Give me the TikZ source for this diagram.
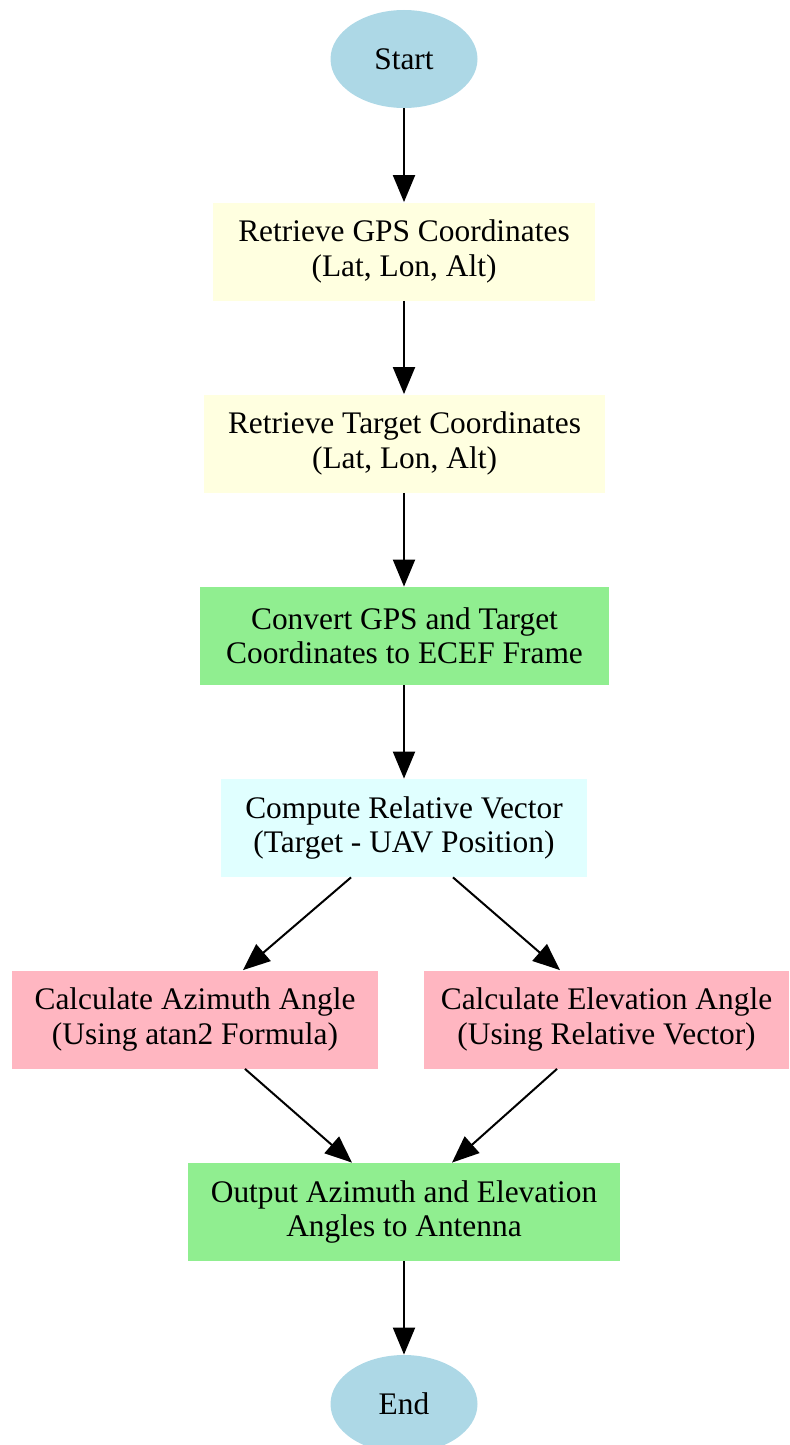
\documentclass[tikz,border=0pt]{standalone}
\usepackage{fontspec}
\setmainfont{Liberation Serif}
\usetikzlibrary{arrows.meta,shapes.geometric}
\definecolor{lblue}{HTML}{ADD8E6}
\definecolor{lyellow}{HTML}{FFFFE0}
\definecolor{lgreen}{HTML}{90EE90}
\definecolor{lcyan}{HTML}{E0FFFF}
\definecolor{lpink}{HTML}{FFB6C1}
\begin{document}
\begin{tikzpicture}[x=0.5pt,y=-0.5pt,
  every node/.style={font=\fontsize{15.7}{17.2}\selectfont, align=center, inner sep=0pt, text=black},
  terminal/.style={ellipse, fill=lblue, minimum width=73.5pt, minimum height=49pt},
  box/.style={rectangle, minimum height=49pt},
  conn/.style={line width=1pt, -{Triangle[length=13.5pt,width=11pt]}}]
\useasboundingbox (0,0) rectangle (789,1445);
\node[terminal] (start) at (404,59) {Start};
\node[box, fill=lyellow, minimum width=191pt] (gps) at (404,251.5) {Retrieve GPS Coordinates\\(Lat, Lon, Alt)};
\node[box, fill=lyellow, minimum width=200.5pt] (target) at (404.5,443.5) {Retrieve Target Coordinates\\(Lat, Lon, Alt)};
\node[box, fill=lgreen, minimum width=204.5pt] (convert) at (404.5,636) {Convert GPS and Target\\Coordinates to ECEF Frame};
\node[box, fill=lcyan, minimum width=183pt] (compute) at (404,828) {Compute Relative Vector\\(Target - UAV Position)};
\node[box, fill=lpink, minimum width=183pt] (azimuth) at (195,1019.5) {Calculate Azimuth Angle\\(Using atan2 Formula)};
\node[box, fill=lpink, minimum width=182.5pt] (elevation) at (606.5,1019.5) {Calculate Elevation Angle\\(Using Relative Vector)};
\node[box, fill=lgreen, minimum width=216pt] (output) at (404,1212) {Output Azimuth and Elevation\\Angles to Antenna};
\node[terminal] (end) at (404,1404) {End};
\draw[conn] (start.south) -- (gps.north);
\draw[conn] (gps.south) -- (target.north -| gps.south);
\draw[conn] (target.south -| gps.south) -- (convert.north -| gps.south);
\draw[conn] (convert.south -| gps.south) -- (compute.north);
\draw[conn] ([xshift=-26.5pt]compute.south) -- ([xshift=24pt]azimuth.north);
\draw[conn] ([xshift=24.5pt]compute.south) -- ([xshift=-23.25pt]elevation.north);
\draw[conn] ([xshift=25pt]azimuth.south) -- ([xshift=-26pt]output.north);
\draw[conn] ([xshift=-24.75pt]elevation.south) -- ([xshift=24pt]output.north);
\draw[conn] (output.south) -- (end.north);
\end{tikzpicture}
\end{document}
